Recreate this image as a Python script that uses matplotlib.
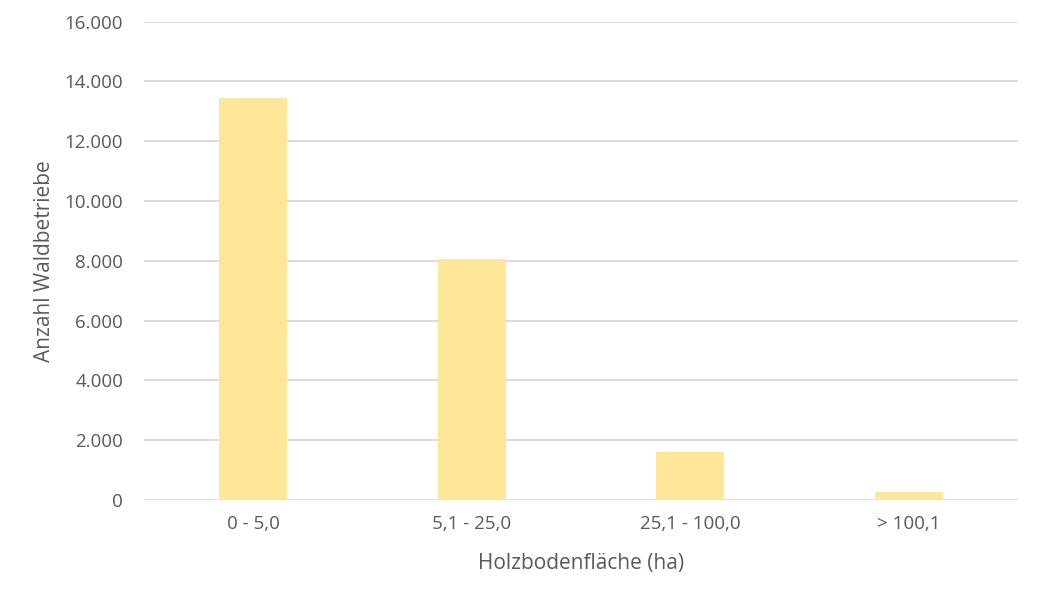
import matplotlib
matplotlib.use("Agg")
import matplotlib.pyplot as plt
from matplotlib.ticker import FuncFormatter

categories = ["0 - 5,0", "5,1 - 25,0", "25,1 - 100,0", "> 100,1"]
betriebe = [13430, 8050, 1600, 270]
yticks = [0, 2000, 4000, 6000, 8000, 10000, 12000, 14000, 16000]

plt.rcParams['font.family'] = ['Open Sans', 'DejaVu Sans']
textcol = "#595959"

fig = plt.figure(figsize=(10.39, 5.99), dpi=100)
ax = fig.add_axes([0.1386, 0.1653, 0.8412, 0.7987])

x = range(len(categories))
ax.bar(x, betriebe, width=0.31, color="#FFE699", zorder=3)

ax.set_xlim(-0.5, len(categories) - 0.5)
ax.set_ylim(0, 16000)
ax.set_yticks(yticks)
ax.yaxis.set_major_formatter(FuncFormatter(lambda v, p: f"{int(v):,}".replace(",", ".")))
ax.set_xticks(list(x))
ax.set_xticklabels(categories)

ax.grid(axis="y", color="#D9D9D9", linewidth=1.3, zorder=0)
for s in ax.spines.values():
    s.set_visible(False)
ax.tick_params(axis="both", length=0, labelsize=13.5, colors=textcol)
ax.tick_params(axis="y", pad=15)
ax.tick_params(axis="x", pad=11)

ax.set_xlabel("Holzbodenfläche (ha)", fontsize=15, color=textcol, labelpad=14)
ax.set_ylabel("Anzahl Waldbetriebe", fontsize=15, color=textcol, labelpad=7)

fig.savefig("out.png", dpi=100)
